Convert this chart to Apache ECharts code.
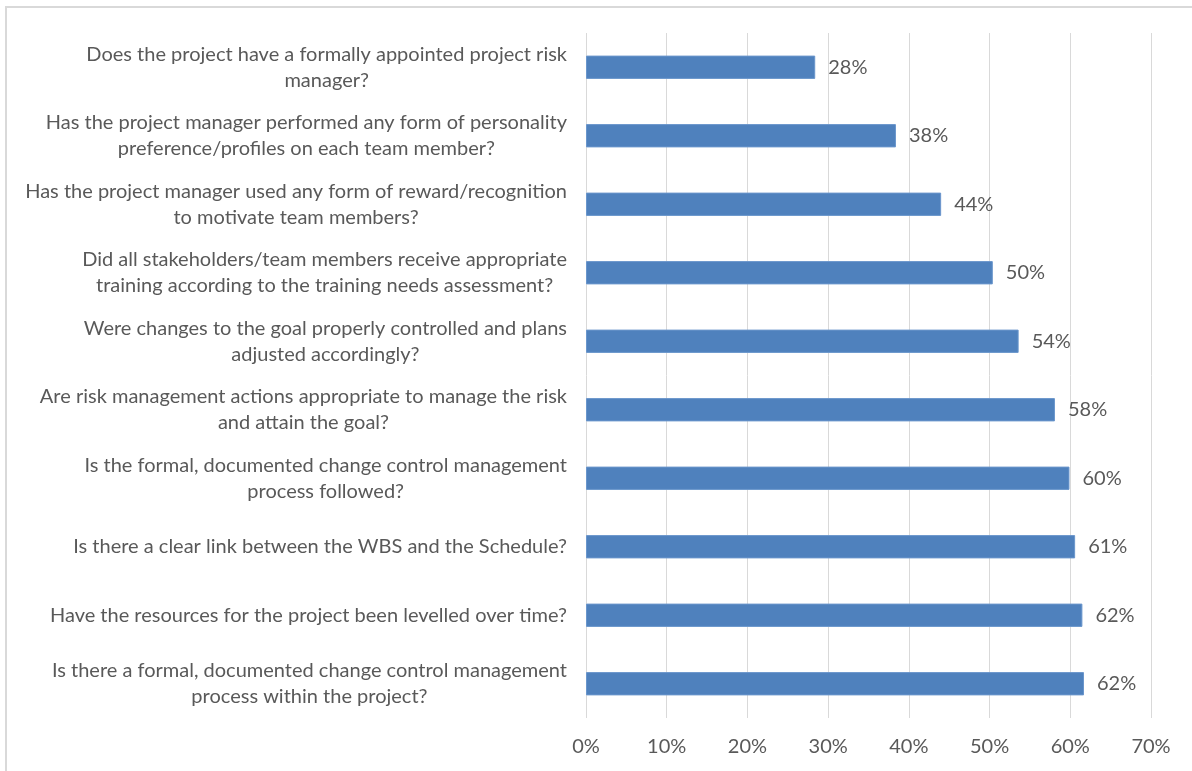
<!DOCTYPE html>
<html>
<head>
<meta charset="utf-8">
<script src="https://cdn.jsdelivr.net/npm/echarts@6/dist/echarts.min.js"></script>
<style>
  html, body { margin: 0; padding: 0; background: #ffffff; }
  #chart { position: absolute; left: 0; top: 0; width: 1192px; height: 771px; }
  #frame {
    position: absolute; left: 5px; top: 6px; width: 1200px; height: 800px;
    border-left: 2px solid #d9d9d9; border-top: 2px solid #d9d9d9;
    pointer-events: none;
  }
</style>
</head>
<body>
<div id="chart"></div>
<div id="frame"></div>
<script>
// Survey questions, listed top to bottom (line breaks as laid out)
const questions = [
  'Does the project have a formally appointed project risk\nmanager?',
  'Has the project manager performed any form of personality\npreference/profiles on each team member?',
  'Has the project manager used any form of reward/recognition\nto motivate team members?',
  'Did all stakeholders/team members receive appropriate\ntraining according to the training needs assessment?',
  'Were changes to the goal properly controlled and plans\nadjusted accordingly?',
  'Are risk management actions appropriate to manage the risk\nand attain the goal?',
  'Is the formal, documented change control management\nprocess followed?',
  'Is there a clear link between the WBS and the Schedule?',
  'Have the resources for the project been levelled over time?',
  'Is there a formal, documented change control management\nprocess within the project?'
];

// Share of "yes" answers, percent
const yesShare = [28.4, 38.4, 44.0, 50.4, 53.6, 58.1, 59.9, 60.6, 61.5, 61.7];

// Value axis ticks, percent
const axisMin = 0;
const axisMax = 70;
const axisStep = 10;

const FONT = 'Lato';
const TEXT = '#595959';
const SIZE = 20;

const chart = echarts.init(document.getElementById('chart'), null, { renderer: 'canvas' });

chart.setOption({
  animation: false,
  backgroundColor: 'transparent',
  grid: { left: 586, right: 41, top: 33, bottom: 53, containLabel: false },
  xAxis: {
    type: 'value',
    min: axisMin,
    max: axisMax,
    interval: axisStep,
    axisLine: { show: false },
    axisTick: { show: false },
    splitLine: { show: true, lineStyle: { color: '#d9d9d9', width: 1 } },
    axisLabel: {
      margin: 19,
      color: TEXT,
      fontFamily: FONT,
      fontSize: SIZE,
      formatter: v => v + '%'
    }
  },
  yAxis: {
    type: 'category',
    inverse: true,
    data: questions,
    axisLine: { show: false },
    axisTick: { show: false },
    splitLine: { show: false },
    axisLabel: {
      margin: 19,
      color: TEXT,
      fontFamily: FONT,
      fontSize: SIZE,
      lineHeight: 26,
      formatter: v => '{c|' + v + '}',
      rich: {
        c: { align: 'center', color: TEXT, fontFamily: FONT, fontSize: SIZE, lineHeight: 26 }
      }
    }
  },
  series: [{
    type: 'bar',
    data: yesShare,
    barWidth: '34%',
    itemStyle: { color: '#4f81bd', borderColor: '#6a96cc', borderWidth: 1 },
    label: {
      show: true,
      position: 'right',
      distance: 13,
      color: TEXT,
      fontFamily: FONT,
      fontSize: SIZE,
      formatter: p => Math.round(p.value) + '%'
    }
  }]
});
</script>
</body>
</html>
